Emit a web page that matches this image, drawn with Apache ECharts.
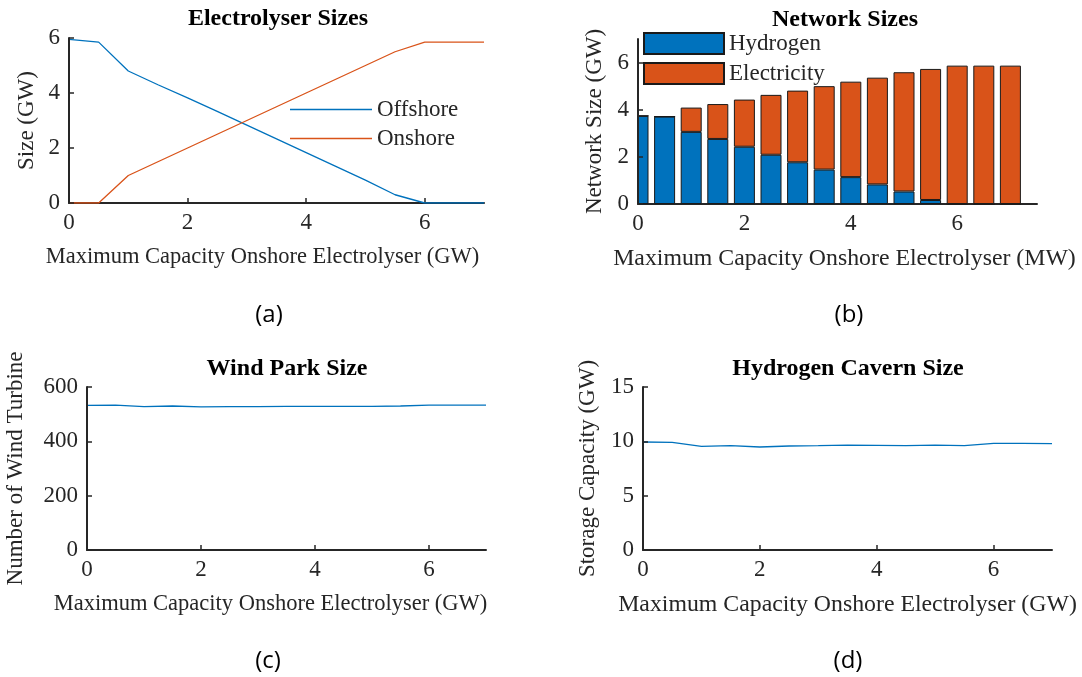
<!DOCTYPE html>
<html>
<head>
<meta charset="utf-8">
<script src="https://cdn.jsdelivr.net/npm/echarts@6/dist/echarts.min.js"></script>
<style>
html,body{margin:0;padding:0;background:#fff;}
#chart{width:1082px;height:677px;}
</style>
</head>
<body>
<div id="chart"></div>
<script>
// ---- data ----
const xVals = [0, 0.5, 1, 1.5, 2, 2.5, 3, 3.5, 4, 4.5, 5, 5.5, 6, 6.5, 7];
const offshore = [5.95, 5.85, 4.8, 4.3, 3.82, 3.33, 2.83, 2.33, 1.83, 1.33, 0.83, 0.3, 0, 0, 0];
const onshore = [0, 0, 1.0, 1.5, 2.0, 2.5, 3.0, 3.5, 4.0, 4.5, 5.0, 5.5, 5.85, 5.85, 5.85];
const hydrogenNet = [3.74, 3.71, 3.06, 2.76, 2.43, 2.09, 1.77, 1.46, 1.14, 0.83, 0.53, 0.17, 0, 0, 0];
const electricityNet = [0, 0, 1.03, 1.48, 2.0, 2.54, 3.04, 3.54, 4.05, 4.53, 5.06, 5.56, 5.87, 5.87, 5.87];
const windTurbines = [532, 533, 528, 530, 527, 528, 528, 529, 529, 529, 529, 530, 533, 533, 533];
const cavernSize = [9.94, 9.9, 9.54, 9.6, 9.48, 9.57, 9.6, 9.66, 9.63, 9.6, 9.66, 9.6, 9.82, 9.82, 9.79];
// bar slots for panel (b): the data positions plus the empty slot at the axis end (7.5)
const netCategories = ['0', '0.5', '1', '1.5', '2', '2.5', '3', '3.5', '4', '4.5', '5', '5.5', '6', '6.5', '7', '7.5'];
const xTicks = [0, 2, 4, 6];
const titles = ['Electrolyser Sizes', 'Network Sizes', 'Wind Park Size', 'Hydrogen Cavern Size'];
const panelLabels = ['(a)', '(b)', '(c)', '(d)'];
const xNames = ['Maximum Capacity Onshore Electrolyser (GW)', 'Maximum Capacity Onshore Electrolyser (MW)',
                'Maximum Capacity Onshore Electrolyser (GW)', 'Maximum Capacity Onshore Electrolyser (GW)'];
const yNames = ['Size (GW)', 'Network Size (GW)', 'Number of Wind Turbine', 'Storage Capacity (GW)'];

const BLUE = '#0072BD', ORANGE = '#D95319', INK = '#262626';
const SERIF = 'Liberation Serif';

const pair = arr => xVals.map((x, i) => [x, arr[i]]);

function xAxis(gi, max, name, shift, fs) {
  return {
    type: 'value', gridIndex: gi, min: 0, max: max, position: 'bottom',
    axisLine: { show: true, onZero: false, lineStyle: { color: INK, width: 2 } },
    axisTick: { show: true, inside: true, length: 5, customValues: xTicks, lineStyle: { color: INK, width: 1.5 } },
    axisLabel: { customValues: xTicks, margin: 8, color: INK, fontFamily: SERIF, fontSize: 23 },
    splitLine: { show: false },
    name: name, nameLocation: 'middle', nameGap: 43,
    nameTextStyle: { color: INK, fontFamily: SERIF, fontSize: fs,
      padding: shift > 0 ? [0, shift * 2, 0, 0] : [0, 0, 0, -shift * 2] }
  };
}
function yAxis(gi, min, max, ticks, name, gap) {
  return {
    type: 'value', gridIndex: gi, min: min, max: max, z: 5,
    axisLine: { show: true, onZero: false, lineStyle: { color: INK, width: 2 } },
    axisTick: { show: true, inside: true, length: 5, customValues: ticks, lineStyle: { color: INK, width: 1.5 } },
    axisLabel: { customValues: ticks, margin: 9, color: INK, fontFamily: SERIF, fontSize: 23 },
    splitLine: { show: false },
    name: name, nameLocation: 'middle', nameGap: gap,
    nameTextStyle: { color: INK, fontFamily: SERIF, fontSize: 23 }
  };
}

const chart = echarts.init(document.getElementById('chart'), null, { renderer: 'canvas' });
const titlePos = [[278, 19], [845, 20], [287, 369], [848, 369]];
const labelPos = [[269, 315], [849, 315], [268, 661], [848, 661]];
const graphics = [];
titles.forEach((t, i) => graphics.push({
  type: 'text', x: titlePos[i][0], y: titlePos[i][1],
  style: { text: t, fill: '#000', font: 'bold 24px "Liberation Serif"', align: 'center', verticalAlign: 'middle' }
}));
panelLabels.forEach((t, i) => graphics.push({
  type: 'text', x: labelPos[i][0], y: labelPos[i][1],
  style: { text: t, fill: '#000', font: '24px "Open Sans"', align: 'center', verticalAlign: 'middle' }
}));
// white mask: hides the half of the first bar that lies left of the y axis in (b)
graphics.push({ type: 'rect', z: 3, shape: { x: 596, y: 100, width: 41, height: 104 }, style: { fill: '#fff' } });

const option = {
  animation: false,
  backgroundColor: '#fff',
  grid: [
    { left: 69, top: 38, width: 415, height: 165 },
    { left: 638, top: 39, width: 399, height: 165 },
    { left: 87, top: 387, width: 399, height: 163 },
    { left: 643, top: 387, width: 409, height: 163 }
  ],
  xAxis: [
    xAxis(0, 7, xNames[0], 14, 22.5),
    xAxis(1, 7.5, xNames[1], -7, 23.8),
    xAxis(2, 7, xNames[2], 16, 22.5),
    xAxis(3, 7, xNames[3], 0, 23.8),
    { type: 'category', gridIndex: 1, position: 'bottom', data: netCategories, boundaryGap: false, show: false }
  ],
  yAxis: [
    yAxis(0, 0, 6, [0, 2, 4, 6], yNames[0], 31),
    yAxis(1, 0, 7, [0, 2, 4, 6], yNames[1], 32),
    yAxis(2, 0, 600, [0, 200, 400, 600], yNames[2], 60),
    yAxis(3, 0, 15, [0, 5, 10, 15], yNames[3], 44)
  ],
  legend: [
    { orient: 'vertical', left: 285, top: 93, itemWidth: 82, itemHeight: 1.5, itemGap: 6, icon: 'rect',
      data: ['Offshore', 'Onshore'], textStyle: { color: INK, fontFamily: SERIF, fontSize: 23 } },
    { orient: 'vertical', left: 638, top: 27, itemWidth: 80, itemHeight: 21, itemGap: 7, icon: 'rect', z: 6,
      data: ['Hydrogen', 'Electricity'], textStyle: { color: INK, fontFamily: SERIF, fontSize: 23 } }
  ],
  graphic: graphics,
  series: [
    { name: 'Offshore', type: 'line', xAxisIndex: 0, yAxisIndex: 0, data: pair(offshore), symbol: 'none',
      lineStyle: { color: BLUE, width: 1.3 }, itemStyle: { color: BLUE } },
    { name: 'Onshore', type: 'line', xAxisIndex: 0, yAxisIndex: 0, data: pair(onshore), symbol: 'none',
      lineStyle: { color: ORANGE, width: 1.3 }, itemStyle: { color: ORANGE } },
    { name: 'Hydrogen', type: 'bar', xAxisIndex: 4, yAxisIndex: 1, stack: 'net', data: hydrogenNet, z: 2,
      barWidth: 21, clip: true, itemStyle: { color: BLUE, borderColor: '#1a1a1a', borderWidth: 1 } },
    { name: 'Electricity', type: 'bar', xAxisIndex: 4, yAxisIndex: 1, stack: 'net', data: electricityNet, z: 2,
      barWidth: 21, clip: true, itemStyle: { color: ORANGE, borderColor: '#1a1a1a', borderWidth: 1 } },
    { name: 'Wind turbines', type: 'line', xAxisIndex: 2, yAxisIndex: 2, data: pair(windTurbines), symbol: 'none',
      lineStyle: { color: BLUE, width: 1.3 }, itemStyle: { color: BLUE } },
    { name: 'Cavern', type: 'line', xAxisIndex: 3, yAxisIndex: 3, data: pair(cavernSize), symbol: 'none',
      lineStyle: { color: BLUE, width: 1.3 }, itemStyle: { color: BLUE } }
  ]
};
chart.setOption(option);
</script>
</body>
</html>
